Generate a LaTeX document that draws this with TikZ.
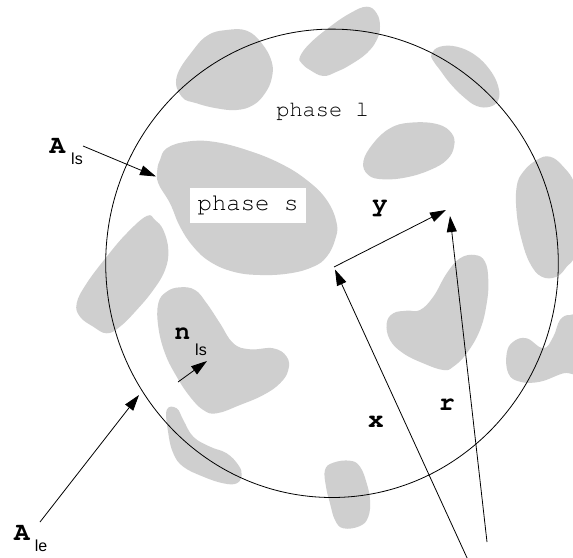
\documentclass[tikz,border=0pt]{standalone}
\usepackage{fontspec}
\usetikzlibrary{arrows.meta}
\newfontfamily\courfont{texgyrecursor}[Extension=.otf, UprightFont=*-regular, BoldFont=*-bold]
\newfontfamily\helvfont{Liberation Sans}
\definecolor{blobgray}{RGB}{207,207,207}
\tikzset{
  blob/.style={fill=blobgray, draw=none},
  vec/.style={draw=black, line width=0.8pt, -{Triangle[length=16pt,width=10pt]}},
  boldlbl/.style={inner sep=0pt, font=\courfont\bfseries\fontsize{26}{30}\selectfont},
  sublbl/.style={inner sep=0pt, font=\helvfont\fontsize{16}{19}\selectfont},
  phaselbl/.style={inner sep=0pt, font=\courfont\fontsize{22}{26}\selectfont},
}
\begin{document}
\begin{tikzpicture}[x=1pt,y=-1pt]
\useasboundingbox (0,0) rectangle (573,557);
\clip (0,0) rectangle (573,557);
\fill[white] (0,0) rectangle (573,557);
% blobs
\fill[blob] plot[smooth cycle, tension=0.7] coordinates {(176.7,76.7) (193.3,50) (208.3,35) (226.7,30) (246.7,30.7) (261.7,43.3) (271.7,61.7) (271.7,78.3) (265,93.3) (253.3,105) (236.7,110) (216.7,108.3) (196.7,103.3) (181.7,96.7)};
\fill[blob] plot[smooth cycle, tension=0.7] coordinates {(300,56.7) (310,43.3) (330,26.7) (350,13.3) (366.7,6.7) (376.7,13.3) (380,26.7) (376.7,40) (366.7,53.3) (350,65) (336.7,71.7) (323.3,76) (310,70) (301.7,63.3)};
\fill[blob] plot[smooth cycle, tension=0.7] coordinates {(431.7,53.3) (440,46.7) (456.7,46.7) (475,55) (490,70) (498.3,86.7) (498.3,100) (490,106.7) (476.7,106) (463.3,96.7) (450,83.3) (440,70) (432.7,60)};
\fill[blob] plot[smooth cycle, tension=0.7] coordinates {(363.3,161.7) (373.3,143.3) (390,128.3) (410,122.7) (436.7,124) (451.7,133.3) (454,146.7) (446.7,160) (430,170) (406.7,177.3) (383.3,179.3) (368.3,175)};
\fill[blob] plot[smooth cycle, tension=0.7] coordinates {(516.7,186.7) (523.3,171.7) (536.7,160) (550,156.7) (563.3,166.7) (575,185) (582,220) (575,255) (566.7,266.7) (556.7,276.7) (541.7,276.7) (530,263.3) (521.7,240) (516.7,213.3)};
\fill[blob] plot[smooth cycle, tension=0.7] coordinates {(160,160) (166.7,148.3) (186.7,141.7) (213.3,141.7) (246.7,150) (280,163.3) (306.7,180) (326.7,200) (336.7,223.3) (335,240) (326.7,256.7) (313.3,266.7) (290,273.3) (260,275) (233.3,271.7) (210,261.7) (193.3,246.7) (180,226.7) (170,203.3) (158.3,183.3) (157.3,170)};
\fill[blob] plot[smooth cycle, tension=0.7] coordinates {(76.7,303.3) (86.7,283.3) (106.7,256.7) (126.7,233.3) (146.7,216) (155,220) (163.3,230) (168.3,250) (165,270) (153.3,290) (136.7,310) (120,326.7) (106.7,333.3) (93.3,326.7) (80,316.7)};
\fill[blob] plot[smooth cycle, tension=0.7] coordinates {(158.3,303.3) (166.7,291.7) (180,287.3) (195,290) (206.7,303.3) (220,323.3) (233.3,343.3) (250,349.3) (273.3,348.3) (286.7,356.7) (288.3,370) (280,383.3) (263.3,395) (240,405) (216.7,413.3) (203.3,410) (190,396.7) (176.7,376.7) (165,353.3) (158.3,326.7)};
\fill[blob] plot[smooth cycle, tension=0.7] coordinates {(166.7,410) (176.7,408.3) (183.3,420) (193.3,436.7) (210,446.7) (226.7,453.3) (238.3,465) (241.7,475) (236.7,483.3) (223.3,483.3) (203.3,476.7) (183.3,466.7) (173.3,453.3) (168.3,433.3)};
\fill[blob] plot[smooth cycle, tension=0.7] coordinates {(386.7,323.3) (393.3,313.3) (406.7,310.7) (420,310) (433.3,296.7) (446.7,273.3) (460,258.3) (475,255) (485,261.7) (488.3,280) (486.7,303.3) (480,330) (466.7,353.3) (453.3,366.7) (443.3,370) (423.3,363.3) (403.3,353.3) (390,340)};
\fill[blob] plot[smooth cycle, tension=0.7] coordinates {(506.7,353.3) (513.3,341.7) (526.7,338.3) (543.3,348.3) (553.3,336.7) (560,320) (570,315) (582,320) (582,370) (563.3,373.3) (540,381.7) (520,381.7) (508.3,373.3)};
\fill[blob] plot[smooth cycle, tension=0.7] coordinates {(325,470) (333.3,462.7) (350,460.7) (360,466.7) (366.7,483.3) (370,500) (368.3,516.7) (360,526) (343.3,528.3) (335,520) (330,503.3) (326,486.7)};
% region boundary
\draw[line width=0.8pt] (332,263.3) ellipse [x radius=226.3, y radius=234.2];
% phase labels
\node[phaselbl] (pl) at (322.5,112) {phase l};
\node[fill=white, minimum width=116pt, minimum height=35pt, inner sep=0pt,
      font=\courfont\fontsize{24}{28}\selectfont] (ps) at (248,205.5) {phase s};
% labels
\node[boldlbl] (Als) at (57.5,146) {A};
\node[sublbl] (Alssub) at (77,159) {ls};
\node[boldlbl] (Ale) at (22,533) {A};
\node[sublbl] (Alesub) at (41,546) {le};
\node[boldlbl] (n) at (182.5,333.5) {n};
\node[sublbl] (nsub) at (201,350) {ls};
\node[boldlbl] (y) at (380,208) {y};
\node[boldlbl] (x) at (376,422) {x};
\node[boldlbl] (r) at (447,405) {r};
% arrow ends
\coordinate (alsS) at (83,146);
\coordinate (alsT) at (156,176.5);
\coordinate (aleS) at (40,522);
\coordinate (aleT) at (139,395);
\coordinate (nS) at (178,382);
\coordinate (nT) at (207,361);
\coordinate (P) at (334,267);
\coordinate (Q) at (446,210);
\coordinate (O) at (468,560);
\coordinate (Or) at (487,542);
\coordinate (Qr) at (450,216);
\coordinate (Pt) at (335,269.5);
\draw[vec] (alsS) -- (alsT);
\draw[vec] (aleS) -- (aleT);
\draw[vec] (nS) -- (nT);
\draw[vec] (P) -- (Q);
\draw[vec] (O) -- (Pt);
\draw[vec] (Or) -- (Qr);
\end{tikzpicture}
\end{document}
